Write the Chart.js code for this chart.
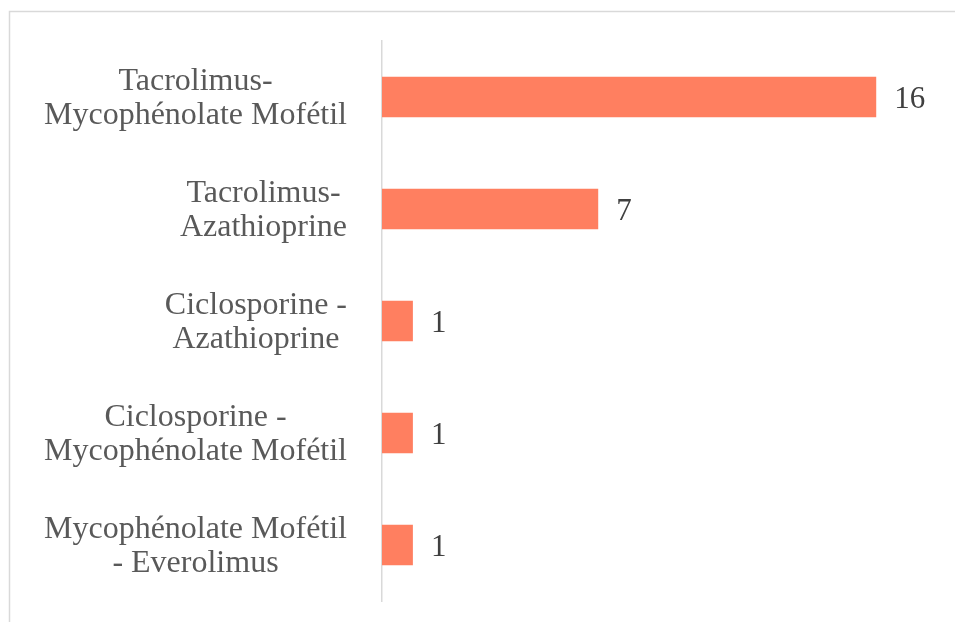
<!DOCTYPE html>
<html>
<head>
<meta charset="utf-8">
<script src="https://cdn.jsdelivr.net/npm/chart.js@4"></script>
<style>
  html, body { margin: 0; padding: 0; background: #fff; }
  #wrap { width: 955px; height: 622px; position: relative; }
</style>
</head>
<body>
<div id="wrap"><canvas id="myChart"></canvas></div>
<script>
  "use strict";

  // data
  const categories = [
    ["Tacrolimus-", "Mycophénolate Mofétil"],
    ["Tacrolimus-", "Azathioprine"],
    ["Ciclosporine -", "Azathioprine"],
    ["Ciclosporine -", "Mycophénolate Mofétil"],
    ["Mycophénolate Mofétil", "- Everolimus"]
  ];
  const patients = [16, 7, 1, 1, 1];
  const axisMax = 18;

  const serif = "'Liberation Serif', 'Times New Roman', serif";

  // light frame at top and left, as in the source picture
  const framePlugin = {
    id: "frame",
    beforeDraw(chart) {
      const c = chart.ctx;
      c.save();
      c.strokeStyle = "#d9d9d9";
      c.lineWidth = 1.5;
      c.beginPath();
      c.moveTo(9.5, chart.height);
      c.lineTo(9.5, 11.5);
      c.lineTo(chart.width, 11.5);
      c.stroke();
      c.restore();
    }
  };

  // category labels: block right-aligned, lines centred inside the block
  const catLabelPlugin = {
    id: "catLabels",
    afterDraw(chart) {
      const c = chart.ctx;
      const y = chart.scales.y;
      const right = y.right - 35;
      const lineH = 34;
      c.save();
      c.font = "32px " + serif;
      c.fillStyle = "#595959";
      c.textAlign = "center";
      c.textBaseline = "middle";
      categories.forEach(function (lines, i) {
        const w = Math.max.apply(null, lines.map(function (l) { return c.measureText(l).width; }));
        const cx = right - w / 2;
        const cy = y.getPixelForValue(i) + 2;
        lines.forEach(function (l, k) {
          c.fillText(l, cx, cy + (k - (lines.length - 1) / 2) * lineH);
        });
      });
      c.restore();
    }
  };

  // value labels at the end of each bar
  const valueLabelPlugin = {
    id: "valueLabels",
    afterDatasetsDraw(chart) {
      const c = chart.ctx;
      const meta = chart.getDatasetMeta(0);
      c.save();
      c.font = "31px " + serif;
      c.fillStyle = "#404040";
      c.textAlign = "left";
      c.textBaseline = "middle";
      meta.data.forEach(function (bar, i) {
        c.fillText(String(patients[i]), bar.x + 18, bar.y + 3);
      });
      c.restore();
    }
  };

  new Chart(document.getElementById("myChart"), {
    type: "bar",
    data: {
      labels: categories,
      datasets: [
        {
          data: patients,
          backgroundColor: "#ff7f60",
          borderWidth: 0,
          barPercentage: 0.6,
          categoryPercentage: 0.6
        }
      ]
    },
    options: {
      indexAxis: "y",
      responsive: true,
      maintainAspectRatio: false,
      animation: false,
      layout: {
        padding: { left: 0, top: 41, right: 17, bottom: 21 }
      },
      plugins: {
        legend: { display: false },
        tooltip: { enabled: false }
      },
      scales: {
        x: {
          display: false,
          min: 0,
          max: axisMax
        },
        y: {
          afterFit: function (scale) { scale.width = 382; },
          ticks: { display: false },
          grid: { display: false, drawTicks: false },
          border: { display: true, color: "#d9d9d9", width: 1.5 }
        }
      }
    },
    plugins: [framePlugin, catLabelPlugin, valueLabelPlugin]
  });
</script>
</body>
</html>
